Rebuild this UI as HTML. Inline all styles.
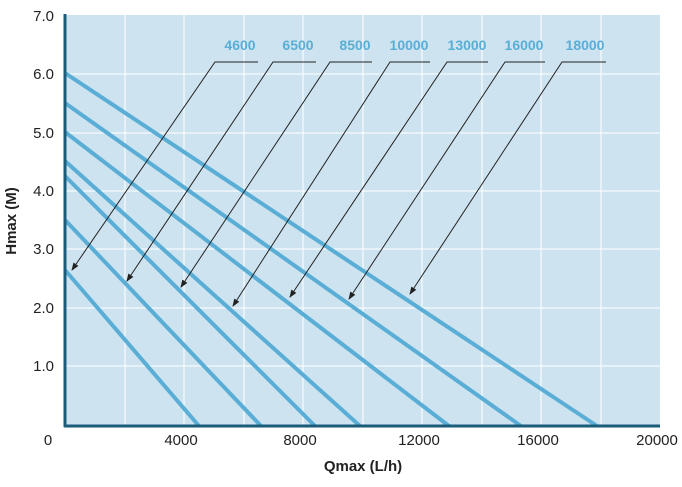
<!DOCTYPE html>
<html><head><style>body{margin:0;background:#fff}</style></head><body>
<svg width="682" height="482" xmlns="http://www.w3.org/2000/svg" font-family="Liberation Sans, sans-serif">
<defs><marker id="a" markerWidth="8" markerHeight="8" refX="7" refY="4" orient="auto" markerUnits="userSpaceOnUse"><path d="M0,1 L8,4 L0,7 Z" fill="#222"/></marker></defs>
<rect x="65" y="15" width="595" height="411" fill="#cde3f0"/>
<g stroke="#fff" stroke-width="1">
<line x1="125" y1="15" x2="125" y2="426"/><line x1="184" y1="15" x2="184" y2="426"/><line x1="244" y1="15" x2="244" y2="426"/><line x1="303" y1="15" x2="303" y2="426"/><line x1="363" y1="15" x2="363" y2="426"/><line x1="422" y1="15" x2="422" y2="426"/><line x1="482" y1="15" x2="482" y2="426"/><line x1="541" y1="15" x2="541" y2="426"/><line x1="601" y1="15" x2="601" y2="426"/>
<line x1="65" y1="74" x2="660" y2="74"/><line x1="65" y1="133" x2="660" y2="133"/><line x1="65" y1="191" x2="660" y2="191"/><line x1="65" y1="249" x2="660" y2="249"/><line x1="65" y1="308" x2="660" y2="308"/><line x1="65" y1="366" x2="660" y2="366"/>
</g>
<g stroke="#5aaed6" stroke-width="4" stroke-linecap="butt">
<line x1="65" y1="73" x2="597" y2="426"/>
<line x1="65" y1="103" x2="521" y2="426"/>
<line x1="65" y1="132" x2="449" y2="426"/>
<line x1="65" y1="161" x2="360" y2="426"/>
<line x1="65" y1="176" x2="315" y2="426"/>
<line x1="65" y1="220" x2="261" y2="426"/>
<line x1="65" y1="270" x2="199" y2="426"/>
</g>
<g stroke="#222" stroke-width="1" fill="none">
<polyline points="258,62 215,62 72,270" marker-end="url(#a)"/>
<polyline points="316,62 273,62 127,281" marker-end="url(#a)"/>
<polyline points="372,62 330,62 181,287" marker-end="url(#a)"/>
<polyline points="430,62 390,62 233,306" marker-end="url(#a)"/>
<polyline points="488,62 447,62 290,297" marker-end="url(#a)"/>
<polyline points="545,62 505,62 349,299" marker-end="url(#a)"/>
<polyline points="606,62 562,62 410,294" marker-end="url(#a)"/>
</g>
<g fill="#5aaed6" font-weight="bold" font-size="14" text-anchor="middle">
<text x="240" y="50">4600</text><text x="298" y="50">6500</text><text x="355" y="50">8500</text><text x="409" y="50">10000</text><text x="467" y="50">13000</text><text x="524" y="50">16000</text><text x="585" y="50">18000</text>
</g>
<line x1="65" y1="14" x2="65" y2="427" stroke="#1a5c7a" stroke-width="3"/>
<line x1="64" y1="426" x2="660" y2="426" stroke="#1a5c7a" stroke-width="3"/>
<g font-size="15" fill="#222" text-anchor="end">
<text x="54" y="21">7.0</text><text x="54" y="79">6.0</text><text x="54" y="138">5.0</text><text x="54" y="196">4.0</text><text x="54" y="254">3.0</text><text x="54" y="313">2.0</text><text x="54" y="371">1.0</text>
</g>
<g font-size="15" fill="#222" text-anchor="middle">
<text x="48" y="445">0</text><text x="181" y="445">4000</text><text x="300" y="445">8000</text><text x="419" y="445">12000</text><text x="538" y="445">16000</text><text x="657" y="445">20000</text>
</g>
<text x="363" y="471" font-size="15" font-weight="bold" text-anchor="middle" fill="#222">Qmax (L/h)</text>
<text transform="translate(16,221) rotate(-90)" font-size="15" font-weight="bold" text-anchor="middle" fill="#222">Hmax (M)</text>
</svg>
</body></html>
